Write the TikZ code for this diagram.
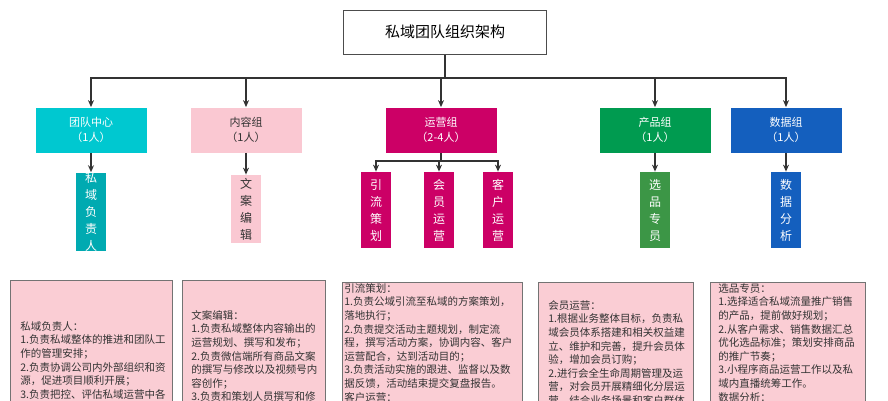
\documentclass[tikz,border=0pt]{standalone}
\usepackage{fontspec}
\setmainfont{Noto Sans CJK SC}
\usetikzlibrary{arrows.meta}
\definecolor{cteal}{RGB}{0,200,208}
\definecolor{cpink}{RGB}{250,200,210}
\definecolor{cmag}{RGB}{204,0,102}
\definecolor{cgreen}{RGB}{0,155,80}
\definecolor{cgreenb}{RGB}{60,150,70}
\definecolor{cblue}{RGB}{20,95,190}
\definecolor{cdesc}{RGB}{250,205,212}
\tikzset{
  every picture/.style={line width=0.75pt},
  conn/.style={draw=black!80, line width=1.3pt},
  arr/.style={conn, -{Stealth[length=7pt,width=6pt]}},
  grpbox/.style={minimum width=111pt, minimum height=45pt, inner sep=0pt, align=center, font=\fontsize{11}{15}\selectfont},
  rolebox/.style={minimum width=30pt, minimum height=76pt, inner sep=0pt, align=center, font=\fontsize{12}{17}\selectfont, text=white},
  descbox/.style={draw=black!55, fill=cdesc, line width=1pt, anchor=north west, inner sep=0pt},
  desctext/.style={anchor=north west, inner sep=0pt, align=left, text=black!80, font=\fontsize{10.5}{13.6}\selectfont}
}
\begin{document}
\begin{tikzpicture}[x=1pt,y=-1pt]
\useasboundingbox (0,0) rectangle (888,400);
\clip (0,0) rectangle (888,400);

% title
\node (title) [draw=black!70, line width=1pt, minimum width=203pt, minimum height=44pt, font=\fontsize{15}{18}\selectfont] at (445,32) {私域团队组织架构};
\coordinate (bus) at (445,78);

% groups
\node (team) [grpbox, fill=cteal, text=white] at (91,130) {团队中心\\（1人）};
\node (cont) [grpbox, fill=cpink, text=black!80] at (246,130) {内容组\\（1人）};
\node (ops) [grpbox, fill=cmag, text=white] at (441,130) {运营组\\（2-4人）};
\node (prod) [grpbox, fill=cgreen, text=white] at (655,130) {产品组\\（1人）};
\node (data) [grpbox, fill=cblue, text=white] at (786,130) {数据组\\（1人）};

% roles
\node (lead) [rolebox, fill=cteal!85!black] at (91,212) {私\\域\\负\\责\\人};
\node (copy) [rolebox, fill=cpink, text=black!80, minimum height=68pt] at (246,209) {文\\案\\编\\辑};
\node (traf) [rolebox, fill=cmag] at (376,210) {引\\流\\策\\划};
\node (memb) [rolebox, fill=cmag] at (439,210) {会\\员\\运\\营};
\node (cust) [rolebox, fill=cmag] at (498,210) {客\\户\\运\\营};
\node (pick) [rolebox, fill=cgreenb] at (655,210) {选\\品\\专\\员};
\node (anal) [rolebox, fill=cblue] at (786,210) {数\\据\\分\\析};

% connectors
\draw[conn] (title.south) -- (bus);
\foreach \g in {team,cont,ops,prod,data}
  \draw[arr] (bus) -| (\g.north);
\draw[arr] (team.south) -- (lead.north);
\draw[arr] (cont.south) -- (copy.north);
\coordinate (opsbus) at (441,161);
\draw[conn] (ops.south) -- (opsbus);
\foreach \r in {traf,memb,cust}
  \draw[arr] (opsbus) -| (\r.north);
\draw[arr] (prod.south) -- (pick.north);
\draw[arr] (data.south) -- (anal.north);

% descriptions
\node (d1) [descbox, minimum width=162pt, minimum height=140pt] at (10,280) {};
\node (d2) [descbox, minimum width=143pt, minimum height=140pt] at (182,280) {};
\node (d3) [descbox, minimum width=180pt, minimum height=140pt] at (342,282) {};
\node (d4) [descbox, minimum width=155pt, minimum height=140pt] at (538,282) {};
\node (d5) [descbox, minimum width=155pt, minimum height=140pt] at (710,282) {};

\node (t1) [desctext] at (20,321) {私域负责人：\\1.负责私域整体的推进和团队工\\作的管理安排；\\2.负责协调公司内外部组织和资\\源，促进项目顺利开展；\\3.负责把控、评估私域运营中各};
\node (t2) [desctext] at (191,310) {文案编辑：\\1.负责私域整体内容输出的\\运营规划、撰写和发布；\\2.负责微信端所有商品文案\\的撰写与修改以及视频号内\\容创作；\\3.负责和策划人员撰写和修};
\node (t3) [desctext] at (344,283) {引流策划：\\1.负责公域引流至私域的方案策划，\\落地执行；\\2.负责提交活动主题规划，制定流\\程，撰写活动方案，协调内容、客户\\运营配合，达到活动目的；\\3.负责活动实施的跟进、监督以及数\\据反馈，活动结束提交复盘报告。\\客户运营：};
\node (t4) [desctext] at (548,300) {会员运营：\\1.根据业务整体目标，负责私\\域会员体系搭建和相关权益建\\立、维护和完善，提升会员体\\验，增加会员订购；\\2.进行会全生命周期管理及运\\营，对会员开展精细化分层运\\营，结合业务场景和客户群体};
\node (t5) [desctext] at (718,283) {选品专员：\\1.选择适合私域流量推广销售\\的产品，提前做好规划；\\2.从客户需求、销售数据汇总\\优化选品标准；策划安排商品\\的推广节奏；\\3.小程序商品运营工作以及私\\域内直播统筹工作。\\数据分析：};
\end{tikzpicture}
\end{document}
